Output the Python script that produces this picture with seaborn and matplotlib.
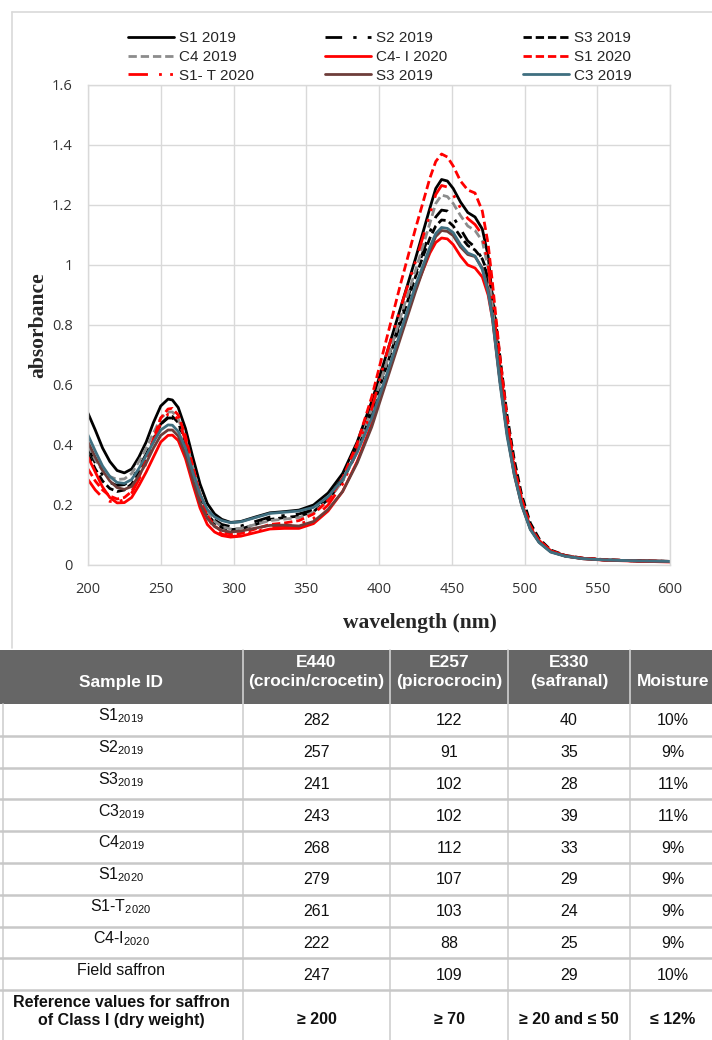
import matplotlib
matplotlib.use("Agg")
import matplotlib.pyplot as plt
import seaborn as sns
from matplotlib.patches import Rectangle

# ---------------- data ----------------
wavelength = [200, 205, 210, 215, 220, 225, 230, 235, 240, 245, 250, 255, 258, 262, 267, 272, 277, 282, 287, 292,
              298, 305, 315, 325, 335, 345, 355, 365, 375, 385, 395, 405, 415, 425, 435, 439, 443, 447, 451, 456,
              461, 466, 471, 475, 478, 483, 488, 493, 498, 504, 510, 518, 528, 540, 555, 575, 600]

s1_2019 = [0.506, 0.45, 0.39, 0.345, 0.315, 0.307, 0.32, 0.36, 0.41, 0.475, 0.53, 0.553, 0.55, 0.525, 0.455, 0.36,
           0.27, 0.205, 0.17, 0.152, 0.142, 0.145, 0.16, 0.174, 0.178, 0.183, 0.2, 0.24, 0.305, 0.41, 0.545, 0.7,
           0.86, 1.02, 1.19, 1.255, 1.285, 1.28, 1.255, 1.21, 1.175, 1.16, 1.12, 1.03, 0.89, 0.66, 0.46, 0.31,
           0.205, 0.122, 0.078, 0.045, 0.03, 0.022, 0.017, 0.014, 0.012]
s2_2019 = [0.39, 0.34, 0.3, 0.275, 0.265, 0.268, 0.285, 0.325, 0.37, 0.42, 0.47, 0.49, 0.49, 0.47, 0.405, 0.315,
           0.235, 0.18, 0.15, 0.135, 0.128, 0.13, 0.145, 0.16, 0.165, 0.17, 0.185, 0.225, 0.29, 0.39, 0.52, 0.67,
           0.82, 0.97, 1.11, 1.16, 1.183, 1.18, 1.16, 1.12, 1.08, 1.06, 1.02, 0.95, 0.85, 0.64, 0.45, 0.31, 0.21,
           0.125, 0.08, 0.047, 0.031, 0.022, 0.017, 0.014, 0.012]
s3_2019_dash = [0.37, 0.32, 0.28, 0.255, 0.245, 0.25, 0.27, 0.31, 0.36, 0.415, 0.47, 0.493, 0.495, 0.475, 0.41,
                0.315, 0.23, 0.17, 0.14, 0.125, 0.118, 0.12, 0.135, 0.152, 0.158, 0.163, 0.178, 0.218, 0.28, 0.38,
                0.51, 0.66, 0.81, 0.96, 1.09, 1.13, 1.15, 1.148, 1.13, 1.095, 1.065, 1.05, 1.02, 0.97, 0.9, 0.7,
                0.5, 0.35, 0.235, 0.14, 0.088, 0.05, 0.032, 0.023, 0.018, 0.014, 0.012]
c4_2019 = [0.4, 0.35, 0.315, 0.295, 0.285, 0.287, 0.305, 0.345, 0.39, 0.44, 0.49, 0.51, 0.51, 0.488, 0.42, 0.325,
           0.24, 0.178, 0.145, 0.128, 0.12, 0.122, 0.135, 0.148, 0.153, 0.158, 0.175, 0.215, 0.28, 0.385, 0.52,
           0.67, 0.83, 0.98, 1.14, 1.205, 1.233, 1.228, 1.205, 1.165, 1.13, 1.115, 1.08, 0.99, 0.86, 0.64, 0.45,
           0.31, 0.205, 0.122, 0.078, 0.046, 0.03, 0.022, 0.017, 0.014, 0.012]
c4_i_2020 = [0.36, 0.31, 0.26, 0.225, 0.207, 0.208, 0.225, 0.265, 0.31, 0.36, 0.41, 0.432, 0.433, 0.415, 0.355,
             0.27, 0.19, 0.135, 0.11, 0.098, 0.093, 0.096, 0.108, 0.12, 0.122, 0.122, 0.138, 0.18, 0.245, 0.345,
             0.47, 0.62, 0.775, 0.92, 1.04, 1.075, 1.09, 1.087, 1.068, 1.03, 1.0, 0.99, 0.96, 0.9, 0.82, 0.62, 0.44,
             0.305, 0.205, 0.125, 0.078, 0.046, 0.03, 0.021, 0.016, 0.013, 0.01]
s1_2020 = [0.32, 0.28, 0.25, 0.23, 0.22, 0.225, 0.245, 0.293, 0.35, 0.42, 0.49, 0.52, 0.522, 0.5, 0.43, 0.33,
           0.235, 0.165, 0.13, 0.112, 0.103, 0.105, 0.12, 0.135, 0.14, 0.148, 0.17, 0.215, 0.29, 0.405, 0.56,
           0.75, 0.94, 1.12, 1.29, 1.345, 1.37, 1.36, 1.33, 1.28, 1.25, 1.24, 1.18, 1.07, 0.94, 0.7, 0.49, 0.33,
           0.22, 0.13, 0.082, 0.048, 0.031, 0.023, 0.018, 0.014, 0.012]
s1_t_2020 = [0.285, 0.25, 0.225, 0.212, 0.21, 0.218, 0.24, 0.285, 0.34, 0.41, 0.475, 0.503, 0.505, 0.485, 0.415,
             0.32, 0.225, 0.158, 0.122, 0.103, 0.095, 0.097, 0.11, 0.125, 0.13, 0.135, 0.155, 0.2, 0.27, 0.38,
             0.52, 0.7, 0.86, 1.01, 1.17, 1.235, 1.265, 1.26, 1.235, 1.19, 1.155, 1.135, 1.1, 1.0, 0.88, 0.67,
             0.47, 0.33, 0.22, 0.13, 0.082, 0.048, 0.031, 0.022, 0.017, 0.014, 0.012]
s3_2019_brown = [0.41, 0.36, 0.315, 0.28, 0.258, 0.252, 0.262, 0.298, 0.34, 0.39, 0.432, 0.45, 0.45, 0.43, 0.37,
                 0.285, 0.205, 0.155, 0.128, 0.115, 0.11, 0.113, 0.123, 0.132, 0.133, 0.13, 0.145, 0.185, 0.245,
                 0.34, 0.46, 0.61, 0.76, 0.91, 1.05, 1.095, 1.115, 1.112, 1.098, 1.06, 1.035, 1.028, 0.99, 0.92,
                 0.83, 0.62, 0.44, 0.3, 0.2, 0.12, 0.076, 0.044, 0.03, 0.021, 0.017, 0.014, 0.012]
c3_2019 = [0.433, 0.38, 0.33, 0.295, 0.275, 0.272, 0.285, 0.322, 0.365, 0.41, 0.45, 0.467, 0.466, 0.445, 0.39,
           0.31, 0.235, 0.185, 0.16, 0.148, 0.141, 0.144, 0.158, 0.172, 0.176, 0.18, 0.192, 0.228, 0.285, 0.375,
           0.49, 0.63, 0.78, 0.93, 1.06, 1.105, 1.125, 1.122, 1.108, 1.068, 1.04, 1.03, 0.985, 0.91, 0.82, 0.61,
           0.43, 0.3, 0.2, 0.118, 0.075, 0.043, 0.029, 0.021, 0.017, 0.014, 0.012]

series_names = ["S1 2019", "S2 2019", "S3 2019", "C4 2019", "C4- I 2020", "S1 2020", "S1- T 2020", "S3 2019",
                "C3 2019"]
series_values = [s1_2019, s2_2019, s3_2019_dash, c4_2019, c4_i_2020, s1_2020, s1_t_2020, s3_2019_brown, c3_2019]

x_ticks = [200, 250, 300, 350, 400, 450, 500, 550, 600]
x_tick_labels = ["200", "250", "300", "350", "400", "450", "500", "550", "600"]
y_ticks = [0, 0.2, 0.4, 0.6, 0.8, 1.0, 1.2, 1.4, 1.6]
y_tick_labels = ["0", "0.2", "0.4", "0.6", "0.8", "1", "1.2", "1.4", "1.6"]

table_headers = ["Sample ID", "E440\n(crocin/crocetin)", "E257\n(picrocrocin)", "E330\n(safranal)", "Moisture"]
sample_ids = ["S1", "S2", "S3", "C3", "C4", "S1", "S1-T", "C4-I", "Field saffron"]
sample_years = ["2019", "2019", "2019", "2019", "2019", "2020", "2020", "2020", ""]
e440 = [282, 257, 241, 243, 268, 279, 261, 222, 247]
e257 = [122, 91, 102, 102, 112, 107, 103, 88, 109]
e330 = [40, 35, 28, 39, 33, 29, 24, 25, 29]
moisture = ["10%", "9%", "11%", "11%", "9%", "9%", "9%", "9%", "10%"]
reference_label = "Reference values for saffron\nof Class I (dry weight)"
reference_values = ["≥ 200", "≥ 70", "≥ 20 and ≤ 50", "≤ 12%"]

# ---------------- styles ----------------
colors = ["black", "black", "black", "#8c8c8c", "#ff0000", "#ff0000", "#ff0000", "#6e3d3a", "#3f6f80"]
linestyles = ["-", (0, (6, 4, 1.2, 4)), (0, (3, 1.4)), (0, (3, 1.4)), "-", (0, (3, 1.4)),
              (0, (7, 4, 1, 3, 1, 4)), "-", "-"]

sns.set_theme(style="white")
plt.rcParams["font.family"] = ["Liberation Sans", "DejaVu Sans"]
plt.rcParams["mathtext.default"] = "regular"

W, H = 712, 1040
fig = plt.figure(figsize=(W / 100, H / 100), dpi=100)
fig.patch.set_facecolor("white")

# full-figure overlay axes for chart border and table (pixel coordinates)
tax = fig.add_axes([0, 0, 1, 1])
tax.set_xlim(0, W)
tax.set_ylim(H, 0)
tax.axis("off")

ax = fig.add_axes([88 / W, 1 - 565 / H, 582 / W, 480 / H])
for name, vals, c, ls in zip(series_names, series_values, colors, linestyles):
    sns.lineplot(x=wavelength, y=vals, color=c, linestyle=ls, linewidth=2.0, label=name, ax=ax,
                 errorbar=None, sort=False)
if ax.get_legend() is not None:
    ax.get_legend().remove()

ax.set_xlim(200, 600)
ax.set_ylim(0, 1.6)
ax.set_xticks(x_ticks)
ax.set_xticklabels(x_tick_labels, fontfamily="Open Sans", fontsize=10.5, color="#333333")
ax.set_yticks(y_ticks)
ax.set_yticklabels(y_tick_labels, fontfamily="Open Sans", fontsize=10.5, color="#333333")
ax.tick_params(axis="x", length=0, pad=12)
ax.tick_params(axis="y", length=0, pad=11)
ax.grid(True, color="#d9d9d9", linewidth=1.0)
ax.set_axisbelow(True)
for sp in ax.spines.values():
    sp.set_color("#d9d9d9")
    sp.set_linewidth(1.0)

ax.set_xlabel("wavelength (nm)", fontfamily="Liberation Serif", fontweight="bold", fontsize=15.5)
ax.xaxis.set_label_coords(0.57, -0.1)
ax.xaxis.label.set_va("top")
ax.set_ylabel("absorbance", fontfamily="Liberation Serif", fontweight="bold", fontsize=15.5)
ax.yaxis.set_label_coords(-0.068, 0.5)

# legend: three columns placed individually
handles, labels = ax.get_legend_handles_labels()
col_x = [128, 325, 523]
for k in range(3):
    idx = [k, k + 3, k + 6]
    fig.legend([handles[i] for i in idx], [labels[i] for i in idx], loc="upper left",
               bbox_to_anchor=(col_x[k] / W, 1 - 31 / H), ncol=1, frameon=False, fontsize=11,
               handlelength=3.0, handletextpad=0.35, labelspacing=0.32, borderpad=0, borderaxespad=0)

# chart-area border (top & left)
tax.plot([12, W], [12, 12], color="#d9d9d9", lw=1.2)
tax.plot([12, 12], [12, 648], color="#d9d9d9", lw=1.2)

# ---------------- table ----------------
col_edges = [3, 243, 390, 508, 630, W + 2]
col_centers = [(col_edges[i] + col_edges[i + 1]) / 2 for i in range(5)]
col_centers[0] = 121
col_centers[4] = 673
head_top, head_bot = 650, 704
row_h = 31.8
row_tops = [head_bot + i * row_h for i in range(len(sample_ids) + 1)]
ref_top = row_tops[-1]

tax.add_patch(Rectangle((0, head_top), W, head_bot - head_top, facecolor="#666666", edgecolor="none"))
for xe in col_edges[1:-1]:
    tax.plot([xe, xe], [head_top, H], color="#d0d0d0", lw=1.2)
tax.plot([col_edges[0], col_edges[0]], [head_bot, H], color="#d0d0d0", lw=1.2)
for yt in row_tops[1:]:
    tax.plot([0, W], [yt, yt], color="#c8c8c8", lw=1.8)

head_y = [682, 672, 672, 672, 682]
for i, htxt in enumerate(table_headers):
    tax.text(col_centers[i], head_y[i], htxt, ha="center", va="center", color="white", fontweight="bold",
             fontsize=12.5, linespacing=1.4)

for r in range(len(sample_ids)):
    top = row_tops[r]
    yc = top + row_h / 2 + 1
    lab = sample_ids[r] + ("$_{%s}$" % sample_years[r] if sample_years[r] else "")
    tax.text(col_centers[0], yc - 5, lab, ha="center", va="center", fontsize=11.5, color="#111111")
    for j, v in enumerate([e440[r], e257[r], e330[r], moisture[r]]):
        tax.text(col_centers[j + 1], yc, str(v), ha="center", va="center", fontsize=11.5, color="#111111")

tax.text(col_centers[0], ref_top + 21, reference_label, ha="center", va="center", fontweight="bold",
         fontsize=11.5, linespacing=1.25, color="#111111")
for j, v in enumerate(reference_values):
    tax.text(col_centers[j + 1], ref_top + 29, v, ha="center", va="center", fontweight="bold", fontsize=11.5,
             color="#111111")

fig.savefig("out.png", dpi=100)
